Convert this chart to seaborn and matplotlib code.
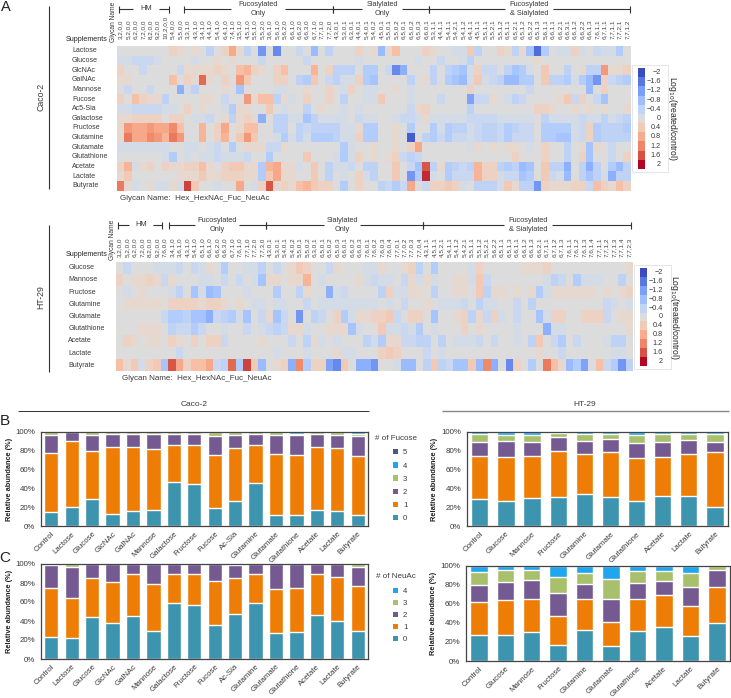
import numpy as np
import pandas as pd
import matplotlib
matplotlib.use("Agg")
import matplotlib.pyplot as plt
from matplotlib.patches import Patch, Rectangle
import seaborn as sns

W, H = 731, 698

# ---------- Panel A data: log10(treated/control), in steps of 1/7 ----------
glycans_caco = ["3,2,0,0","5,2,0,0","6,2,0,0","7,2,0,0","8,2,0,0","9,2,0,0","10,2,0,0","5,4,0,0","5,5,0,0",
    "3,3,1,0","4,3,1,0","3,4,1,0","4,4,1,0","5,4,1,0","6,4,1,0","7,4,1,0","3,5,1,0","4,5,1,0","5,5,1,0","5,5,2,0",
    "3,6,1,0","5,6,1,0","5,6,2,0","6,6,1,0","6,6,2,0","6,6,3,0","6,7,1,0","7,7,1,0","7,7,2,0",
    "4,3,0,1","5,3,0,1","6,3,0,1","4,4,0,1","5,4,0,1","5,4,0,2","4,5,0,1","5,5,0,1","5,5,0,2","6,5,0,1","6,5,0,2","6,5,0,3","6,6,0,1",
    "5,3,1,1","4,4,1,1","5,4,1,1","5,4,2,1","5,4,1,2","6,4,1,1","4,5,1,1","5,5,1,1","5,5,2,1","5,5,1,2","6,5,1,1","6,5,2,1","6,5,1,2","6,5,2,2","6,5,1,3",
    "5,6,1,1","6,6,1,1","6,6,2,1","6,6,3,1","6,6,1,2","6,6,2,2","6,6,1,3","7,6,1,1","6,7,1,1","7,7,1,1","7,7,2,1","7,7,1,2"]

caco_lactose = [0,0,0,0,0,0,0,2,1,0,1,0,-3,0,2,6,1,-3,0,-9,0,-10,0,0,
    -2,0,-6,0,-3,0,0,0,2,0,1,-6,1,4,0,0,0,2,1,0,0,-1,-1,
    3,-3,0,0,2,1,-3,1,-5,-12,-4,0,-1,-1,2,-1,0,-2,-1,-1,-4,0]
caco_glucose = [-1,-1,-2,-2,-2,-1,0,0,0,0,-1,0,0,1,0,1,0,0,0,-2,0,0,0,0,
    0,-2,0,0,0,0,0,0,-1,0,0,0,0,0,0,0,-1,0,0,-2,0,0,-1,
    -3,0,0,0,0,0,0,0,0,1,0,0,0,0,0,0,0,0,0,0,0,0]
caco_glcnac = [2,0,0,-2,0,0,0,0,-2,1,1,1,1,2,1,0,4,5,2,1,0,2,4,0,
    0,0,5,0,2,-3,-3,-3,0,-4,-4,0,-2,-10,-7,0,0,0,-3,0,-3,-4,-5,
    -1,2,-2,-2,0,-3,-5,-4,-1,0,3,0,0,-3,0,1,-3,-3,7,1,1,2]
caco_galnac = [1,1,0,0,0,0,0,4,0,2,1,10,1,0,2,0,7,3,0,0,0,2,2,0,
    -3,-4,3,0,-2,-3,-1,-1,2,-4,-5,0,0,0,0,-3,0,1,-3,0,-4,-5,-6,
    -1,3,-1,-2,-3,-6,-6,-4,-4,0,3,-3,-3,-4,-1,-4,-6,-9,2,-2,-3,-4]
caco_mannose = [0,-2,0,0,-2,0,0,0,-7,-1,-3,0,0,0,1,0,-5,0,0,0,0,-1,-1,0,
    0,1,0,0,2,0,-1,2,0,-1,-1,0,0,1,0,-1,0,0,0,0,0,0,0,
    2,0,0,0,0,0,0,0,-2,0,0,0,0,0,0,0,-6,0,2,0,0,0]
caco_fucose = [2,0,4,2,1,1,-3,0,0,0,0,1,1,0,-2,0,0,7,1,4,4,-3,1,-1,
    0,2,0,0,2,0,-3,0,0,-1,-1,3,0,0,0,-1,0,0,0,-2,0,0,0,
    -8,-2,-2,1,0,-1,-3,-2,0,0,0,0,1,3,-2,2,0,-2,-5,0,0,0]
caco_ac5sia = [-1,-1,-2,-2,-2,-2,-1,-1,0,2,0,1,0,0,-1,-4,1,1,0,0,3,0,-1,0,
    0,-3,0,1,0,0,-1,0,-1,0,0,0,0,0,0,-2,1,2,0,0,0,0,0,
    -3,0,0,0,0,0,0,0,0,2,2,1,0,0,1,0,1,0,1,0,0,1]
caco_galactose = [1,1,2,2,2,2,0,2,2,0,-1,-1,-2,0,1,-3,1,2,1,-7,0,-3,-3,-1,
    -1,-5,-3,-1,-1,-1,-1,0,-2,-1,-1,0,0,-1,-2,-2,-1,1,-1,-1,-1,-1,-1,
    -2,-2,-2,-2,-1,-1,-1,-1,-1,0,-3,-1,-1,-1,-1,-2,-1,-1,-3,-1,-2,-3]
caco_fructose = [1,7,6,6,7,6,6,8,4,0,0,5,0,2,6,0,1,4,4,0,0,-3,-3,0,
    -3,-2,-3,-3,-3,-3,-1,-1,1,-4,-4,0,0,1,0,-4,0,0,-4,-1,-4,-3,-3,
    -1,-2,-3,-3,-2,-4,-3,-2,-2,0,-4,-4,-4,-4,-1,-2,2,-4,-3,-3,-3,-4]
caco_glutamine = [1,9,6,6,8,7,5,9,7,0,0,5,0,2,5,0,3,7,3,0,0,-1,-4,-1,
    -3,-1,-4,-4,-4,-3,-1,-1,2,-4,-4,0,0,1,0,-13,0,-3,-4,-2,-4,-2,-2,
    -1,-2,-3,-3,-2,-4,-2,-2,-2,0,-4,-4,-5,-5,-1,-2,2,-4,-3,-3,-3,-3]
caco_glutamate = [-1,-1,-1,-1,-1,-1,-1,0,0,-1,-1,0,-1,-2,0,-4,0,1,1,1,-2,-2,1,0,
    0,0,0,0,0,0,-4,-1,0,0,1,0,0,1,0,2,6,0,0,0,0,0,0,
    -1,1,0,1,0,1,1,0,-1,0,2,0,0,-3,0,1,-5,1,0,-2,0,0]
caco_glutathione = [0,0,0,0,0,0,-1,-4,0,-1,0,-1,-1,-2,-1,-1,-1,-2,0,0,-4,0,0,0,
    0,3,0,0,0,-1,-4,-1,2,0,1,0,1,2,-2,-3,-2,0,0,0,0,0,0,
    0,0,0,0,0,0,2,0,0,0,2,0,0,-3,0,2,-5,0,0,-2,0,2]
caco_acetate = [2,5,-1,1,2,0,2,1,1,2,2,4,1,0,2,3,3,1,1,-4,5,6,1,1,
    -1,0,3,0,-3,-1,-1,-2,0,-3,-3,0,0,3,0,-2,-5,11,-3,1,-4,-3,-2,
    -3,5,2,2,-3,-4,-3,-6,-5,0,3,-3,-3,-7,0,-3,-7,-3,0,-4,-6,-3]
caco_lactate = [1,3,0,0,0,0,0,0,1,1,1,3,1,1,2,2,2,1,1,-4,3,6,1,1,
    0,0,3,0,-3,0,-1,0,2,-1,-3,0,0,3,0,-9,-4,13,-1,0,-4,-2,-2,
    -2,5,2,2,-1,-2,-2,-5,-4,0,3,-2,-1,-6,0,-3,-5,-3,-1,-7,-3,-3]
caco_butyrate = [9,1,-1,0,1,-1,-1,1,-1,12,3,0,0,-1,0,0,6,0,-1,2,11,1,2,1,
    4,5,3,2,2,0,-4,0,2,0,0,-3,-2,-4,-2,6,0,-2,2,2,3,2,-1,
    0,-3,-3,-3,-1,3,1,-3,-3,-9,2,1,1,1,2,2,-2,4,2,1,4,2]
caco_rows = ["Lactose","Glucose","GlcNAc","GalNAc","Mannose","Fucose","Ac5-Sia","Galactose",
             "Fructose","Glutamine","Glutamate","Glutathione","Acetate","Lactate","Butyrate"]
caco_values = [caco_lactose,caco_glucose,caco_glcnac,caco_galnac,caco_mannose,caco_fucose,caco_ac5sia,
               caco_galactose,caco_fructose,caco_glutamine,caco_glutamate,caco_glutathione,
               caco_acetate,caco_lactate,caco_butyrate]

glycans_ht = ["3,2,0,0","5,2,0,0","6,2,0,0","7,2,0,0","8,2,0,0","9,2,0,0","7,6,0,0",
    "3,4,1,0","3,6,1,0","4,3,1,0","5,4,1,0","6,5,1,0","6,6,1,0","6,6,2,0","6,6,3,0","6,7,1,0","7,6,1,0","7,7,1,0","7,7,2,0","7,7,3,0",
    "4,3,0,1","5,3,0,1","5,4,0,1","5,4,0,2","5,5,0,1","5,5,0,2","6,3,0,1","6,5,0,1","6,5,0,2","6,5,0,3","6,6,0,1","6,6,0,2","6,6,0,3","7,6,0,1",
    "7,6,0,2","7,6,0,3","7,6,0,4","7,7,0,1","7,7,0,2","7,7,0,3","7,7,0,4",
    "4,3,1,1","4,5,1,1","4,5,2,1","5,4,1,1","5,4,1,2","5,4,2,1","5,5,1,1","5,5,1,2","5,5,2,1","5,6,2,2","6,5,1,1","6,5,1,3",
    "6,6,1,1","6,6,1,2","6,6,1,3","6,6,2,1","6,7,1,1","6,7,1,2","6,7,1,3","7,6,1,1","7,6,1,2","7,6,1,3","7,6,1,4",
    "7,7,1,1","7,7,1,2","7,7,1,3","7,7,1,4","7,7,2,3"]

ht_glucose = [0,-2,0,0,0,-1,-1,-1,-2,0,-2,-1,1,0,-4,0,0,-1,-1,-3,0,-2,0,1,3,2,0,0,-2,1,0,0,0,-1,
    -1,1,0,0,1,2,-3,0,-4,0, 0,0,0,-1,2,0,0,0,0,0, 1,1,1,2,0,0,0,0,0,0, 0,0,0,0,1]
ht_mannose = [2,0,1,1,2,1,-2,1,0,0,0,-1,-1,0,-2,0,-2,0,-1,-5,1,1,0,1,1,5,0,-1,0,0,0,0,1,-1,
    -2,-1,-1,0,-2,1,-1,1,-1,0, 0,1,1,-1,3,-2,0,0,0,0, 0,0,0,-1,-3,-2,0,-4,-1,-1, -1,0,0,-3,0]
ht_fructose = [0,-1,0,1,0,0,0,-1,-3,0,-5,-1,-6,-5,0,0,0,-1,0,0,0,-4,0,0,-3,1,0,0,-7,-1,-2,0,0,0,
    0,-3,2,-1,-1,1,1,0,-3,0, 0,1,1,0,3,-3,1,1,0,1, 0,1,-4,-1,1,1,1,1,1,1, 0,1,0,1,2]
ht_glutamine = [0,1,1,1,1,1,0,2,2,2,2,1,2,2,1,0,1,0,-1,-1,0,-1,-1,0,0,-2,0,-1,-1,-1,-1,-1,-1,-1,
    -1,0,-1,0,-2,0,0,1,0,-1, -1,-1,-2,0,-3,-1,-1,0,0,-2, 0,-3,0,0,0,0,0,0,0,0, 0,-2,-1,0,-1]
ht_glutamate = [0,0,0,0,0,0,-2,-4,-4,-3,-5,-5,-7,-2,-3,-4,-1,-5,0,-2,1,-5,-2,0,-9,0,-3,-2,0,2,-4,-1,1,1,
    2,2,3,-2,0,2,2,0,-5,0, 0,1,2,-3,1,-2,2,-1,0,-2, 0,0,-5,-1,2,2,0,0,2,2, 2,-2,0,1,1]
ht_glutathione = [0,0,0,1,1,1,0,-3,-2,-2,-4,-2,0,0,-1,0,0,-2,0,-1,-2,-3,-2,1,1,-1,0,0,1,1,1,-5,-1,0,
    0,3,-1,-1,-2,-1,-4,0,-1,0, 0,0,2,0,1,0,0,0,0,-1, 0,0,0,-7,-1,-1,0,0,0,0, 0,0,0,0,1]
ht_acetate = [0,2,1,0,1,1,0,2,1,0,2,0,2,2,-2,0,0,0,0,1,0,0,0,-2,0,-3,1,-1,0,-1,0,0,0,-3,
    -1,-4,1,1,-2,-2,-3,-3,0,-3, 0,-1,-1,-1,-2,0,-2,0,0,-1, 0,-3,3,0,-2,-4,0,-2,0,0, 0,-1,-3,-3,0]
ht_lactate = [0,0,0,0,0,0,0,0,-2,0,0,0,0,0,0,0,0,0,0,0,0,-1,0,0,0,-1,0,0,0,1,-1,-1,0,0,
    0,2,3,2,0,0,0,-2,0,-1, 0,0,0,0,0,0,0,0,0,0, 0,0,1,0,0,-2,0,0,0,0, 0,0,-1,-1,0]
ht_butyrate = [4,1,3,-1,2,3,-5,11,6,2,4,4,6,-2,-3,10,-4,12,3,-6,0,1,2,-7,8,-4,2,2,-8,-10,3,0,-7,-7,
    -9,0,0,-1,-6,-6,0,-3,3,-3, -2,-5,-5,3,-6,8,-7,0,-10,2, 0,-4,0,9,4,1,-6,-4,-8,0, 4,-2,-4,-9,-3]
ht_rows = ["Glucose","Mannose","Fructose","Glutamine","Glutamate","Glutathione","Acetate","Lactate","Butyrate"]
ht_values = [ht_glucose,ht_mannose,ht_fructose,ht_glutamine,ht_glutamate,ht_glutathione,ht_acetate,ht_lactate,ht_butyrate]

cbar_levels = [-2,-1.6,-1.2,-0.8,-0.4,0,0.4,0.8,1.2,1.6,2]
cbar_labels = ["\u22122","\u22121.6","\u22121.2","\u22120.8","\u22120.4","0","0.4","0.8","1.2","1.6","2"]

# ---------- Panels B, C data: cumulative tops of the stacks (%) ----------
cats_caco = ["Control","Lactose","Glucose","GlcNAc","GalNAc","Mannose","Galactose","Fructose","Fucose",
             "Ac-Sia","Glutamine","Glutamate","Glutathione","Acetate","Lactate","Butyrate"]
cats_ht = ["Control","Glucose","Mannose","Fructose","Glutamine","Glutamate","Glutathione","Acetate","Lactate","Butyrate"]

caco_fuc0 = [15,20,28.5,13,16,17,46.5,44.5,19.5,27,46,12,12,17.5,16,11.5]
caco_fuc1 = [78,90.5,80,84,84,82,86,86,75.5,83,86,76,75.5,84,82.5,74.5]
caco_fuc2 = [96,100,96,98,97.5,97.5,97.5,97.5,95,97,97.5,97,96,97.5,97,95]
caco_fuc3 = [99.5,100,99.5,99.5,100,99.5,99.5,100,99.7,99.7,99.5,100,98,99.5,99.5,98]
caco_fuc4 = [100]*16

ht_fuc0 = [29,26.5,30,30.5,34,30.5,27,32.5,32.5,20]
ht_fuc1 = [74,73.5,74.5,80,76,78.5,72,73.5,76.5,78.5]
ht_fuc2 = [89.5,90,89.5,94,90,92,88,89,91,89.5]
ht_fuc3 = [97.5,97,97,99,97.5,98,97,97.5,98,97.5]
ht_fuc4 = [100]*10

caco_neu0 = [23,22,44,38,45,29,58.5,57,36,47,59,27,28,46,39.5,30]
caco_neu1 = [75,64,85.5,81.5,90,78.5,89,89.5,82,85.5,89,73.5,74.5,89,86,76.5]
caco_neu2 = [98.5,97,99.5,100,99.5,100,100,99.5,100,98.5,99.5,99.5,100,100,100,96.5]
caco_neu3 = [100]*16

ht_neu0 = [27,27.5,30,17,33,15.5,31,35.5,26,40]
ht_neu1 = [61.5,64.5,65.5,47.5,65,40.5,65,69,58,78]
ht_neu2 = [80,82.5,84.5,71,80.5,65.5,82,84,78,95.5]
ht_neu3 = [93,95,95.5,88,92,86.5,94,94,92,100]
ht_neu4 = [100]*10

col0, col1, col2, col3, col4, col5 = "#3d94ae", "#ed7d05", "#755a92", "#a8bf6c", "#1fa6ee", "#4a5b7a"

sns.set_theme(style="white")
plt.rcParams["font.family"] = ["Liberation Sans", "DejaVu Sans"]
TXT = "#3a3a3a"

fig = plt.figure(figsize=(W / 100, H / 100), dpi=100, facecolor="white")

def px_axes(x0, y0, x1, y1, **kw):
    return fig.add_axes([x0 / W, 1 - y1 / H, (x1 - x0) / W, (y1 - y0) / H], **kw)

# overlay in pixel coordinates for labels and brackets
ov = px_axes(0, 0, W, H)
ov.set_xlim(0, W); ov.set_ylim(H, 0); ov.axis("off")

def hline(x0, x1, y, color="#333333", lw=0.8):
    ov.plot([x0, x1], [y, y], color=color, lw=lw, solid_capstyle="butt")

def vline(x, y0, y1, color="#333333", lw=0.8):
    ov.plot([x, x], [y0, y1], color=color, lw=lw, solid_capstyle="butt")

def heat(values, rows, cols, box, lab_pad):
    df = pd.DataFrame(np.array(values) / 7.0, index=rows, columns=cols)
    ax = px_axes(*box)
    sns.heatmap(df, ax=ax, cmap="coolwarm", vmin=-2, vmax=2, cbar=False,
                xticklabels=True, yticklabels=False, linewidths=0)
    ax.set_xlabel(""); ax.set_ylabel("")
    ax.xaxis.tick_top()
    ax.tick_params(axis="x", length=0, pad=lab_pad, labelsize=4.6, labelrotation=90, colors="#444444")
    return ax

def cbar(box, frame, log_xy, lab_x):
    ov.add_patch(Rectangle((frame[0], frame[1]), frame[2] - frame[0], frame[3] - frame[1],
                           fc="white", ec="#e6e6e6", lw=0.7))
    ax = px_axes(*box)
    sns.heatmap(pd.DataFrame({"v": cbar_levels}), ax=ax, cmap="coolwarm", vmin=-2, vmax=2,
                cbar=False, xticklabels=False, yticklabels=False)
    ax.set_xlabel(""); ax.set_ylabel("")
    y0, y1 = box[1], box[3]
    step = (y1 - y0) / len(cbar_labels)
    for i, s in enumerate(cbar_labels):
        ov.text(lab_x, y0 + step * (i + 0.5), s, ha="right", va="center", fontsize=5.2, color=TXT)
    ov.text(log_xy[0], log_xy[1], "Log$_{10}$(treated/control)", rotation=-90, ha="center", va="center",
            fontsize=6.2, color="#222222")

def bracket(x0, x1, y, label, xc, gap):
    hline(x0, xc - gap, y); hline(xc + gap, x1, y)
    vline(x0, y - 3.5, y + 3.5); vline(x1, y - 3.5, y + 3.5)
    ov.text(xc, y, label, ha="center", va="center", fontsize=5.3, color=TXT, linespacing=1.25)

# ---------- Panel A heat maps ----------
heat(caco_values, caco_rows, glycans_caco, (117, 46, 630.7, 190.7), 5)
heat(ht_values, ht_rows, glycans_ht, (116, 261.7, 633, 371.3), 3.5)

for i, r in enumerate(caco_rows):
    ov.text(72, 46 + 9.647 * (i + 0.5), r, ha="left", va="center", fontsize=5, color=TXT)
for i, r in enumerate(ht_rows):
    ov.text(68.3, 261.7 + 12.18 * (i + 0.5), r, ha="left", va="center", fontsize=5, color=TXT)

ov.text(66, 39.7, "Supplements", ha="left", va="center", fontsize=5.1, color="#222222")
ov.text(65.7, 254.7, "Supplements", ha="left", va="center", fontsize=5.1, color="#222222")
ov.text(113.5, 21.5, "Glycan Name", rotation=90, ha="center", va="center", fontsize=4.8, color=TXT)
ov.text(112, 240, "Glycan Name", rotation=90, ha="center", va="center", fontsize=4.8, color=TXT)
ov.text(119.5, 199, "Glycan Name:  Hex_HexNAc_Fuc_NeuAc", ha="left", va="center", fontsize=5.8, color=TXT)
ov.text(122, 378, "Glycan Name:  Hex_HexNAc_Fuc_NeuAc", ha="left", va="center", fontsize=5.8, color=TXT)

ov.text(5.5, 7, "A", ha="center", va="center", fontsize=10.5, color="#222222")
ov.text(5, 421, "B", ha="center", va="center", fontsize=11, color="#222222")
ov.text(5, 558, "C", ha="center", va="center", fontsize=11, color="#222222")

ov.text(41, 97, "Caco-2", rotation=90, ha="center", va="center", fontsize=6.3, color=TXT)
ov.text(41, 297, "HT-29", rotation=90, ha="center", va="center", fontsize=6.3, color=TXT)
vline(48.5, 6, 189); vline(48.5, 225, 372)

bracket(119, 169, 9, "HM", 146, 13)
bracket(184, 333, 9, "Fucosylated\nOnly", 258, 27)
bracket(333, 429, 9, "Sialylated\nOnly", 382, 20)
bracket(429, 629.5, 9, "Fucosylated\n& Sialylated", 529, 24)
bracket(118, 162, 225, "HM", 141, 12)
bracket(169, 266, 225, "Fucosylated\nOnly", 217, 22)
bracket(266, 423, 225, "Sialylated\nOnly", 342, 18)
bracket(423, 631, 225, "Fucosylated\n& Sialylated", 528, 24)

cbar((638, 68, 645, 169), (632, 65, 668, 172), (673, 118), 661)
cbar((640, 268, 647, 366), (634, 265, 671, 369), (674, 317), 663)

# ---------- Panels B, C stacked bars ----------
def stack(box, cats, tops, colors, width):
    ax = px_axes(*box)
    for top, c in reversed(list(zip(tops, colors))):
        sns.barplot(x=cats, y=top, color=c, saturation=1, width=width, ax=ax, zorder=2)
    ax.set_ylim(0, 100)
    ax.set_yticks([0, 20, 40, 60, 80, 100])
    ax.set_yticklabels(["0%", "20%", "40%", "60%", "80%", "100%"])
    ax.set_xlabel("")
    ax.set_ylabel("Relative abundance (%)", fontsize=5.3, fontweight="bold", labelpad=2, color="#222222")
    ax.tick_params(axis="y", length=0, pad=4, labelsize=5.7, colors=TXT)
    ax.tick_params(axis="x", length=0, pad=3, labelsize=5.7, colors=TXT)
    for t in ax.get_xticklabels():
        t.set_rotation(45); t.set_ha("right"); t.set_rotation_mode("anchor")
    for s in ax.spines.values():
        s.set_color("#444444"); s.set_linewidth(0.9); s.set_visible(True)
    return ax

stack((41, 431.7, 368, 526.3), cats_caco, [caco_fuc0, caco_fuc1, caco_fuc2, caco_fuc3, caco_fuc4],
      [col0, col1, col2, col3, col4], 0.7)
stack((466.7, 431.7, 728, 526.3), cats_ht, [ht_fuc0, ht_fuc1, ht_fuc2, ht_fuc3, ht_fuc4],
      [col0, col1, col2, col3, col4], 0.66)
stack((41, 564, 368, 659), cats_caco, [caco_neu0, caco_neu1, caco_neu2, caco_neu3],
      [col0, col1, col2, col3], 0.7)
stack((465.7, 565.7, 730, 661), cats_ht, [ht_neu0, ht_neu1, ht_neu2, ht_neu3, ht_neu4],
      [col0, col1, col2, col3, col4], 0.66)

ov.text(194, 404, "Caco-2", ha="center", va="center", fontsize=6, color=TXT)
ov.text(585, 404, "HT-29", ha="center", va="center", fontsize=6, color=TXT)
hline(18, 369, 411, color="#333333", lw=0.7)
hline(442, 729, 411, color="#888888", lw=1.0)

ov.text(375, 439, "# of Fucose", ha="left", va="center", fontsize=5.8, color=TXT)
ov.text(376, 577, "# of NeuAc", ha="left", va="center", fontsize=5.8, color=TXT)

def legend(labels, colors, anchor):
    handles = [Patch(fc=c, ec="none", label=l) for l, c in zip(labels, colors)]
    fig.legend(handles=handles, loc="upper left", bbox_to_anchor=(anchor[0] / W, 1 - anchor[1] / H),
               frameon=False, fontsize=5.6, handlelength=0.7, handleheight=0.7, handletextpad=0.6,
               labelspacing=anchor[2], borderpad=0, borderaxespad=0, labelcolor=TXT)

legend(["5", "4", "3", "2", "1", "0"], [col5, col4, col3, col2, col1, col0], (393, 449, 0.74))
legend(["4", "3", "2", "1", "0"], [col4, col3, col2, col1, col0], (393, 588, 0.58))

fig.savefig("out.png", dpi=100)
